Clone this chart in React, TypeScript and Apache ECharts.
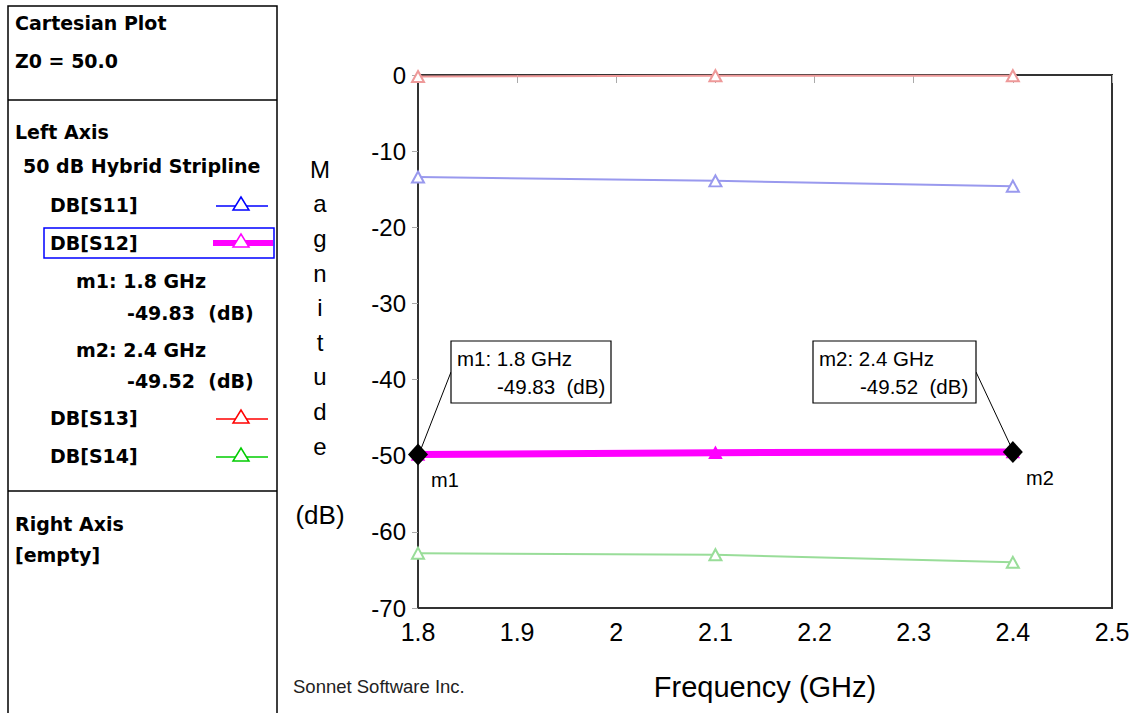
import React, { useEffect, useRef } from "react";
import * as echarts from "echarts";

const freqs = [1.8, 2.1, 2.4];
const s11 = [-13.4, -13.9, -14.6];
const s12 = [-49.83, -49.6, -49.52];
const s13 = [-0.2, -0.1, -0.1];
const s14 = [-62.8, -63.0, -64.0];
const markerNames = ["m1", "m2"];
const markerFreqs = [1.8, 2.4];
const markerVals = [-49.83, -49.52];
const xTicks = { min: 1.8, max: 2.5, interval: 0.1 };
const yTicks = { min: -70, max: 0, interval: 10 };

const PANEL_FONT = "'DejaVu Sans', sans-serif";
const PLOT_FONT = "'Liberation Sans', Arial, sans-serif";

function ptxt(x: number, y: number, text: string, extra: any = {}) {
  return {
    type: "text",
    x,
    y,
    style: {
      text,
      fill: "#000",
      font: `bold 19px ${PANEL_FONT}`,
      textVerticalAlign: "middle",
      ...extra,
    },
  };
}

function legendSym(y: number, color: string, thick: boolean) {
  const cx = 241;
  return [
    {
      type: "line",
      shape: { x1: thick ? 213 : 216, y1: y, x2: thick ? 273 : 268, y2: y },
      style: { stroke: color, lineWidth: thick ? 6 : 1.5 },
    },
    {
      type: "polygon",
      shape: { points: [[cx, y - 9], [cx - 8, y + 4], [cx + 8, y + 4]] },
      style: { fill: "#fff", stroke: color, lineWidth: 1.5 },
    },
  ];
}

export default function App() {
  const ref = useRef<HTMLDivElement>(null);
  useEffect(() => {
    const chart = echarts.init(ref.current!, null, { renderer: "svg" });
    const lineSeries = (name: string, vals: number[], color: string, width: number, symbol: string) => ({
      name,
      type: "line",
      data: freqs.map((f, i) => [f, vals[i]]),
      symbol,
      symbolSize: [12, 11],
      lineStyle: { color, width },
      itemStyle: { color, borderColor: color, borderWidth: 1.5 },
      z: 2,
    });
    const graphics: any[] = [
      // left panel frame
      { type: "rect", shape: { x: 8, y: 6, width: 269, height: 720 }, style: { fill: "none", stroke: "#000", lineWidth: 1.5 } },
      { type: "line", shape: { x1: 8, y1: 100, x2: 277, y2: 100 }, style: { stroke: "#000", lineWidth: 1.5 } },
      { type: "line", shape: { x1: 8, y1: 491, x2: 277, y2: 491 }, style: { stroke: "#000", lineWidth: 1.5 } },
      ptxt(15, 23, "Cartesian Plot"),
      ptxt(15, 61, "Z0 = 50.0"),
      ptxt(15, 132, "Left Axis"),
      ptxt(23, 166, "50 dB Hybrid Stripline"),
      ptxt(50, 205, "DB[S11]"),
      ...legendSym(206, "#0000ff", false),
      { type: "rect", shape: { x: 44, y: 228, width: 230, height: 30 }, style: { fill: "none", stroke: "#0000ff", lineWidth: 1.5 } },
      ptxt(50, 243, "DB[S12]"),
      ...legendSym(243, "#ff00ff", true),
      ptxt(76, 281, "m1: 1.8 GHz"),
      ptxt(127, 313, "-49.83  (dB)"),
      ptxt(76, 350, "m2: 2.4 GHz"),
      ptxt(127, 381, "-49.52  (dB)"),
      ptxt(50, 418, "DB[S13]"),
      ...legendSym(419, "#ff0000", false),
      ptxt(50, 456, "DB[S14]"),
      ...legendSym(457, "#00cc00", false),
      ptxt(15, 524, "Right Axis"),
      ptxt(15, 555, "[empty]"),
      // y-axis title
      {
        type: "text",
        x: 320,
        y: 152,
        style: {
          text: "M\na\ng\nn\ni\nt\nu\nd\ne",
          fill: "#000",
          font: `24px ${PLOT_FONT}`,
          textAlign: "center",
          lineHeight: 34.6,
        },
      },
      { type: "text", x: 320, y: 515, style: { text: "(dB)", fill: "#000", font: `26px ${PLOT_FONT}`, textAlign: "center", textVerticalAlign: "middle" } },
      { type: "text", x: 293, y: 686, style: { text: "Sonnet Software Inc.", fill: "#222", font: `18.5px ${PLOT_FONT}`, textVerticalAlign: "middle" } },
      // marker annotation boxes
      { type: "line", shape: { x1: 419, y1: 454, x2: 451, y2: 372 }, style: { stroke: "#000", lineWidth: 1 }, z: 10 },
      { type: "rect", shape: { x: 451, y: 341, width: 160, height: 62 }, style: { fill: "#fff", stroke: "#000", lineWidth: 1.2 }, z: 10 },
      { type: "text", x: 457, y: 358, style: { text: "m1: 1.8 GHz", fill: "#000", font: `20.5px ${PLOT_FONT}`, textVerticalAlign: "middle" }, z: 11 },
      { type: "text", x: 497, y: 386, style: { text: "-49.83  (dB)", fill: "#000", font: `20.5px ${PLOT_FONT}`, textVerticalAlign: "middle" }, z: 11 },
      { type: "line", shape: { x1: 1013, y1: 451, x2: 976, y2: 372 }, style: { stroke: "#000", lineWidth: 1 }, z: 10 },
      { type: "rect", shape: { x: 813, y: 341, width: 163, height: 62 }, style: { fill: "#fff", stroke: "#000", lineWidth: 1.2 }, z: 10 },
      { type: "text", x: 819, y: 358, style: { text: "m2: 2.4 GHz", fill: "#000", font: `20.5px ${PLOT_FONT}`, textVerticalAlign: "middle" }, z: 11 },
      { type: "text", x: 860, y: 386, style: { text: "-49.52  (dB)", fill: "#000", font: `20.5px ${PLOT_FONT}`, textVerticalAlign: "middle" }, z: 11 },
    ];
    chart.setOption({
      animation: false,
      backgroundColor: "#fff",
      grid: {
        left: 418,
        top: 75,
        right: 32,
        bottom: 105,
        show: true,
        borderColor: "#333",
        borderWidth: 2,
      },
      xAxis: {
        type: "value",
        min: xTicks.min,
        max: xTicks.max,
        interval: xTicks.interval,
        name: "Frequency (GHz)",
        nameLocation: "middle",
        nameGap: 64,
        nameTextStyle: { fontFamily: PLOT_FONT, fontSize: 29, color: "#000" },
        axisLine: { show: true, lineStyle: { color: "#333", width: 2 } },
        axisTick: { show: true, length: 8, lineStyle: { color: "#aaa" } },
        axisLabel: {
          fontFamily: PLOT_FONT,
          fontSize: 25,
          color: "#000",
          margin: 11,
          formatter: (v: number) => String(+v.toFixed(1)),
        },
        splitLine: { show: false },
      },
      yAxis: {
        type: "value",
        min: yTicks.min,
        max: yTicks.max,
        interval: yTicks.interval,
        axisLine: { show: true, lineStyle: { color: "#333", width: 2 } },
        axisTick: { show: true, length: 6, lineStyle: { color: "#aaa" } },
        axisLabel: { fontFamily: PLOT_FONT, fontSize: 24, color: "#000", margin: 12 },
        splitLine: { show: false },
      },
      series: [
        lineSeries("DB[S11]", s11, "#9999ee", 2, "emptyTriangle"),
        lineSeries("DB[S13]", s13, "#ee9999", 2, "emptyTriangle"),
        lineSeries("DB[S14]", s14, "#99dd99", 2, "emptyTriangle"),
        lineSeries("DB[S12]", s12, "#ff00ff", 7, "triangle"),
        {
          name: "markers",
          type: "scatter",
          data: markerFreqs.map((f, i) => ({ name: markerNames[i], value: [f, markerVals[i]] })),
          symbol: "diamond",
          symbolSize: [20, 22],
          itemStyle: { color: "#000", opacity: 1 },
          clip: false,
          z: 5,
          label: {
            show: true,
            position: "inside",
            offset: [27, 26],
            formatter: (p: any) => p.name,
            fontFamily: PLOT_FONT,
            fontSize: 20,
            color: "#000",
          },
        },
      ],
      graphic: graphics,
    });
    return () => chart.dispose();
  }, []);
  return (
    <div
      ref={ref}
      style={{ position: "absolute", left: 0, top: 0, width: 1144, height: 713, background: "#fff" }}
    />
  );
}
